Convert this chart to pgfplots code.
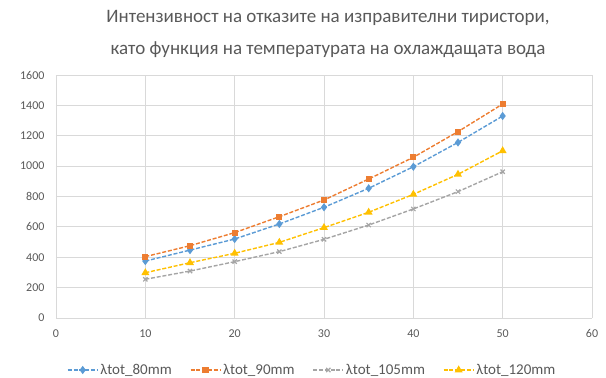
\documentclass[border=0pt]{standalone}
\usepackage{pgfplots}
\pgfplotsset{compat=1.18}
\usepackage{fontspec}
\setmainfont{Carlito}
\definecolor{cblue}{HTML}{5B9BD5}
\definecolor{corange}{HTML}{ED7D31}
\definecolor{cgray}{HTML}{A5A5A5}
\definecolor{cyellow}{HTML}{FFC000}
\definecolor{txt}{HTML}{595959}
\definecolor{gridc}{HTML}{D9D9D9}
\begin{document}
\begin{tikzpicture}[x=1pt,y=1pt]
\path[use as bounding box] (0,0) rectangle (606,378);
\node[text=txt, font=\fontsize{19}{32}\selectfont, align=center] at (328,344)
  {Интензивност на отказите на изправителни тиристори,\\като функция на температурата на охлаждащата вода};
\begin{axis}[
  at={(56pt,60pt)}, anchor=origin,
  scale only axis, width=536pt, height=243pt,
  xmin=0, xmax=60, ymin=0, ymax=1600,
  xtick={0,10,...,60}, ytick={0,200,...,1600},
  grid=major, major grid style={gridc, line width=0.8pt},
  axis line style={draw=none}, tick style={draw=none},
  ticklabel style={text=txt, font=\fontsize{12}{13}\selectfont},
  xticklabel style={yshift=-8pt},
  yticklabel style={xshift=-8pt},
  /pgf/number format/assume math mode=true,
  /pgf/number format/1000 sep={},
  legend columns=4,
  legend style={at={(0.478,-0.214)}, anchor=center, draw=none, fill=none,
    font=\fontsize{15}{16}\selectfont, text=txt,
    /tikz/every even column/.append style={column sep=16pt}},
  legend image code/.code={\draw[#1] (0pt,0pt) -- (30pt,0pt); \draw[#1, mark repeat=1] plot coordinates {(15pt,0pt)};},
  every axis plot/.append style={line width=1.4pt, dash pattern=on 4pt off 1.8pt, mark size=3pt},
]
\addplot[cblue, mark=diamond*, mark options={fill=cblue, solid}] coordinates {
  (10,375) (15,447) (20,520) (25,619) (30,729) (35,854) (40,996) (45,1156) (50,1330)};
\addlegendentry{λtot\_80mm}
\addplot[corange, mark=square*, mark size=2.4pt, mark options={fill=corange, solid}] coordinates {
  (10,404) (15,476) (20,562) (25,667) (30,777) (35,915) (40,1058) (45,1227) (50,1409)};
\addlegendentry{λtot\_90mm}
\addplot[cgray, mark=x, mark size=3pt, mark options={solid, line width=1.2pt}] coordinates {
  (10,255) (15,309) (20,371) (25,437) (30,518) (35,612) (40,718) (45,832) (50,963)};
\addlegendentry{λtot\_105mm}
\addplot[cyellow, mark=triangle*, mark size=3.2pt, mark options={fill=cyellow, solid}] coordinates {
  (10,298) (15,364) (20,426) (25,498) (30,595) (35,696) (40,814) (45,946) (50,1101)};
\addlegendentry{λtot\_120mm}
\end{axis}
\end{tikzpicture}
\end{document}
